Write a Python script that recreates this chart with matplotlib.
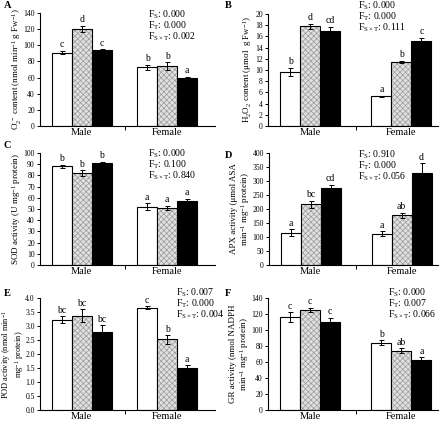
import matplotlib
matplotlib.use("Agg")
import matplotlib.pyplot as plt
import numpy as np

plt.rcParams["font.family"] = ["Liberation Serif", "DejaVu Serif"]
plt.rcParams["mathtext.fontset"] = "custom"
plt.rcParams["mathtext.rm"] = "Liberation Serif"
plt.rcParams["mathtext.it"] = "Liberation Serif:italic"
plt.rcParams["hatch.linewidth"] = 0.5

groups = ["Male", "Female"]

# means and errors: [male(ctrl, t1, t2), female(ctrl, t1, t2)]
o2_mean = [[91, 120, 94], [73, 74, 60]]
o2_err = [[2, 4, 1], [3, 5, 1]]
o2_letters = [["c", "d", "c"], ["b", "b", "a"]]

h2o2_mean = [[9.7, 17.8, 17.0], [5.3, 11.4, 15.2]]
h2o2_err = [[0.7, 0.4, 0.7], [0.1, 0.2, 0.6]]
h2o2_letters = [["b", "d", "cd"], ["a", "b", "c"]]

sod_mean = [[88, 82, 91], [52, 51, 57]]
sod_err = [[1.5, 2.5, 1], [3, 2, 2]]
sod_letters = [["b", "b", "b"], ["a", "a", "a"]]

apx_mean = [[115, 217, 275], [112, 177, 328]]
apx_err = [[12, 12, 12], [8, 10, 35]]
apx_letters = [["a", "bc", "cd"], ["a", "ab", "d"]]

pod_mean = [[3.23, 3.37, 2.80], [3.65, 2.52, 1.50]]
pod_err = [[0.12, 0.22, 0.22], [0.05, 0.15, 0.10]]
pod_letters = [["bc", "bc", "bc"], ["c", "b", "a"]]

gr_mean = [[116, 125, 110], [84, 74, 62]]
gr_err = [[6, 3, 5], [3, 3, 4]]
gr_letters = [["c", "c", "c"], ["b", "ab", "a"]]

stats = {
    "A": ["0.000", "0.000", "0.002"],
    "B": ["0.000", "0.000", "0.111"],
    "C": ["0.000", "0.100", "0.840"],
    "D": ["0.910", "0.000", "0.056"],
    "E": ["0.007", "0.000", "0.004"],
    "F": ["0.000", "0.007", "0.066"],
}

W, H = 440, 421
fig = plt.figure(figsize=(W / 100, H / 100), dpi=100)


def px_axes(left, right, top, bottom):
    return fig.add_axes([left / W, 1 - bottom / H, (right - left) / W, (bottom - top) / H])


def panel(ax, means, errs, letters, ymax, ystep, ylabel, tag, stat_xy, right_col,
          fmt="{:g}", ylabel_size=6.5):
    width = 0.219 if right_col else 0.235
    xlim = (-0.46, 1.40) if right_col else (-0.49, 1.56)
    faces = ["white", "#d4d4d4", "black"]
    x = np.arange(len(groups))
    for g in range(len(groups)):
        for k in range(3):
            xpos = x[g] + (k - 1) * width
            if k == 1:
                ax.bar(xpos, means[g][k], width, color="#e0e0e0", hatch="xxxxxx",
                       edgecolor="#9a9a9a", linewidth=0, zorder=2)
                ax.bar(xpos, means[g][k], width, fill=False, edgecolor="black",
                       linewidth=0.8, zorder=3)
            else:
                ax.bar(xpos, means[g][k], width, color=faces[k], edgecolor="black",
                       linewidth=0.8, zorder=2)
            ax.errorbar(xpos, means[g][k], yerr=errs[g][k], fmt="none", ecolor="black",
                        elinewidth=0.7, capsize=1.8, capthick=0.7, zorder=4)
            ax.text(xpos, means[g][k] + errs[g][k] + ymax * 0.015, letters[g][k],
                    ha="center", va="bottom", fontsize=7)
    ax.set_xlim(*xlim)
    ax.set_ylim(0, ymax)
    ax.set_yticks(np.arange(0, ymax + ystep / 2, ystep))
    ax.set_yticklabels([fmt.format(v) for v in np.arange(0, ymax + ystep / 2, ystep)])
    ax.set_xticks(x)
    ax.set_xticklabels(groups, fontsize=7.5)
    ax.set_xticks([0.5], minor=True)
    ax.tick_params(axis="x", which="major", length=0, pad=1.5)
    ax.tick_params(axis="x", which="minor", length=3, width=0.7, direction="out")
    ax.tick_params(axis="y", labelsize=5.5, length=2.5, width=0.7, direction="out", pad=1.2)
    for s in ["top", "right"]:
        ax.spines[s].set_visible(False)
    for s in ["left", "bottom"]:
        ax.spines[s].set_linewidth(0.8)
    if ylabel:
        ax.set_ylabel(ylabel, fontsize=ylabel_size, labelpad=0.5, linespacing=1.05)
    sx, sy = stat_xy
    names = ["F$_{\\mathrm{S}}$", "F$_{\\mathrm{T}}$", "F$_{\\mathrm{S\\times T}}$"]
    for i, (n, v) in enumerate(zip(names, stats[tag])):
        fig.text(sx / W, 1 - (sy + i * 11) / H, f"{n}: {v}", fontsize=7, va="center")


axA = px_axes(40, 215, 13, 126)
panel(axA, o2_mean, o2_err, o2_letters, 140, 20,
      "O$_2^{\\cdot-}$ content (nmol min$^{-1}$ g Fw$^{-1}$)", "A", (148, 15), False)
axB = px_axes(268, 438, 14, 126)
panel(axB, h2o2_mean, h2o2_err, h2o2_letters, 20, 2,
      "H$_2$O$_2$ content (μmol  g Fw$^{-1}$)", "B", (358, 6), True)
axC = px_axes(40, 215, 153, 265)
panel(axC, sod_mean, sod_err, sod_letters, 100, 10,
      "SOD activity (U mg$^{-1}$ protein)", "C", (148, 154), False)
axD = px_axes(269, 438, 153, 265)
panel(axD, apx_mean, apx_err, apx_letters, 400, 50,
      "APX activity (μmol ASA\nmin$^{-1}$ mg$^{-1}$ protein)", "D", (358, 155), True)
axE = px_axes(40, 215, 298, 410)
panel(axE, pod_mean, pod_err, pod_letters, 4.0, 0.5, None, "E", (176, 293), False,
      fmt="{:.1f}")
# POD label written as two separate lines to keep it inside the left edge
fig.text(7 / W, 1 - 354 / H, "POD activity (nmol min$^{-1}$", rotation=90,
         fontsize=6, ha="center", va="center")
fig.text(19 / W, 1 - 354 / H, "mg$^{-1}$ protein)", rotation=90,
         fontsize=6, ha="center", va="center")
axF = px_axes(268, 438, 298, 410)
panel(axF, gr_mean, gr_err, gr_letters, 140, 20,
      "GR activity (nmol NADPH\nmin$^{-1}$ mg$^{-1}$ protein)", "F", (388, 293), True)

for tag, (tx, ty) in zip("ABCDEF", [(4, 5), (225, 5), (4, 145), (225, 155), (4, 294), (225, 294)]):
    fig.text(tx / W, 1 - ty / H, tag, fontsize=7.5, fontweight="bold", va="center")

fig.savefig("out.png", dpi=100)
